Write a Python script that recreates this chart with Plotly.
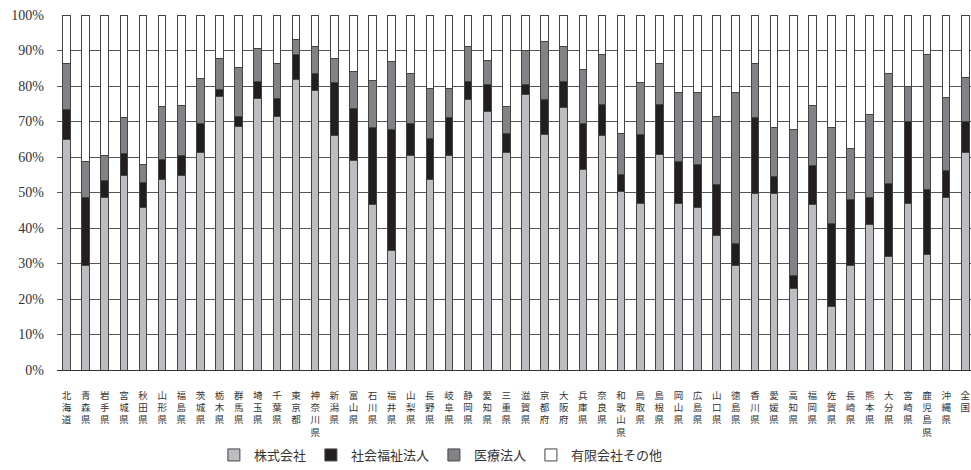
import plotly.graph_objects as go

# 都道府県別・経営主体別の構成比（％）
prefectures = [
    "北海道", "青森県", "岩手県", "宮城県", "秋田県", "山形県", "福島県", "茨城県",
    "栃木県", "群馬県", "埼玉県", "千葉県", "東京都", "神奈川県", "新潟県", "富山県",
    "石川県", "福井県", "山梨県", "長野県", "岐阜県", "静岡県", "愛知県", "三重県",
    "滋賀県", "京都府", "大阪府", "兵庫県", "奈良県", "和歌山県", "鳥取県", "島根県",
    "岡山県", "広島県", "山口県", "徳島県", "香川県", "愛媛県", "高知県", "福岡県",
    "佐賀県", "長崎県", "熊本県", "大分県", "宮崎県", "鹿児島県", "沖縄県", "全国",
]

kabushiki = [
    64.9, 29.5, 48.5, 54.9, 45.8, 53.7, 54.9, 61.2,
    77.1, 68.7, 76.5, 71.3, 81.7, 78.7, 66.0, 59.1,
    46.5, 33.7, 60.3, 53.7, 60.3, 76.1, 72.9, 61.2,
    77.5, 66.4, 74.0, 56.4, 66.0, 50.2, 47.0, 60.7,
    47.0, 45.9, 37.9, 29.5, 49.6, 49.6, 23.1, 46.5,
    17.8, 29.5, 41.1, 32.1, 47.0, 32.6, 48.5, 61.2,
]
shakai_fukushi = [
    8.6, 19.2, 5.0, 6.0, 7.0, 5.6, 5.4, 8.2,
    1.8, 2.8, 4.8, 5.2, 7.2, 4.9, 15.0, 14.5,
    21.9, 34.0, 9.1, 11.4, 10.7, 5.3, 7.6, 5.4,
    2.9, 9.9, 7.4, 13.0, 8.7, 4.9, 19.4, 14.0,
    11.8, 11.9, 14.3, 6.0, 21.4, 5.0, 3.6, 11.2,
    23.6, 18.6, 7.6, 20.4, 22.9, 18.3, 7.7, 8.7,
]
iryo = [
    12.9, 10.0, 6.8, 10.1, 5.0, 14.8, 14.3, 12.7,
    8.9, 13.7, 9.2, 9.9, 4.2, 7.4, 6.8, 10.5,
    13.1, 19.1, 14.2, 14.2, 8.3, 9.6, 6.8, 7.5,
    9.5, 16.2, 9.6, 15.3, 14.3, 11.5, 14.6, 11.7,
    19.5, 20.5, 19.3, 42.8, 15.4, 13.7, 41.0, 16.9,
    26.9, 14.4, 23.3, 31.1, 10.0, 38.1, 20.6, 12.6,
]
yugen_sonota = [round(100 - a - b - c, 1) for a, b, c in zip(kabushiki, shakai_fukushi, iryo)]

series_names = ["株式会社", "社会福祉法人", "医療法人", "有限会社その他"]
series_values = [kabushiki, shakai_fukushi, iryo, yugen_sonota]
series_colors = ["#bcbdc0", "#231f20", "#808285", "#ffffff"]

# 縦書き用に1文字ずつ改行
vertical_labels = ["<br>".join(name) for name in prefectures]
y_ticks = list(range(0, 101, 10))
y_ticktext = [f"{v}%" for v in y_ticks]

fig = go.Figure()
for name, vals, color in zip(series_names, series_values, series_colors):
    fig.add_trace(go.Bar(
        x=list(range(len(prefectures))),
        y=vals,
        name=name,
        width=0.4,
        marker=dict(color=color, line=dict(color="#444444", width=1)),
    ))

fig.update_layout(
    barmode="stack",
    width=971,
    height=470,
    margin=dict(l=57, r=0, t=15, b=98),
    plot_bgcolor="white",
    paper_bgcolor="white",
    font=dict(family="Noto Sans CJK JP", color="#333333"),
    showlegend=True,
    legend=dict(
        orientation="h",
        x=0.42, xanchor="center",
        y=-0.24, yanchor="middle",
        font=dict(size=13, family="Noto Sans CJK JP", color="#333333"),
        traceorder="normal",
    ),
    xaxis=dict(
        range=[-0.5, 47.3],
        tickmode="array",
        tickvals=list(range(len(prefectures))),
        ticktext=vertical_labels,
        tickangle=0,
        tickfont=dict(size=9.5, family="Noto Sans CJK JP", color="#333333"),
        showgrid=False,
        showline=False,
        zeroline=False,
        ticks="",
        ticklabelstandoff=18,
        automargin=False,
    ),
    yaxis=dict(
        range=[0, 100],
        tickmode="array",
        tickvals=y_ticks,
        ticktext=y_ticktext,
        tickfont=dict(size=14, family="Liberation Serif", color="#333333"),
        showgrid=True,
        gridcolor="#555555",
        gridwidth=1,
        zeroline=True,
        zerolinecolor="#333333",
        zerolinewidth=1,
        showline=False,
        ticks="",
        ticklabelstandoff=12,
        automargin=False,
    ),
)

fig.write_html("out.html")
